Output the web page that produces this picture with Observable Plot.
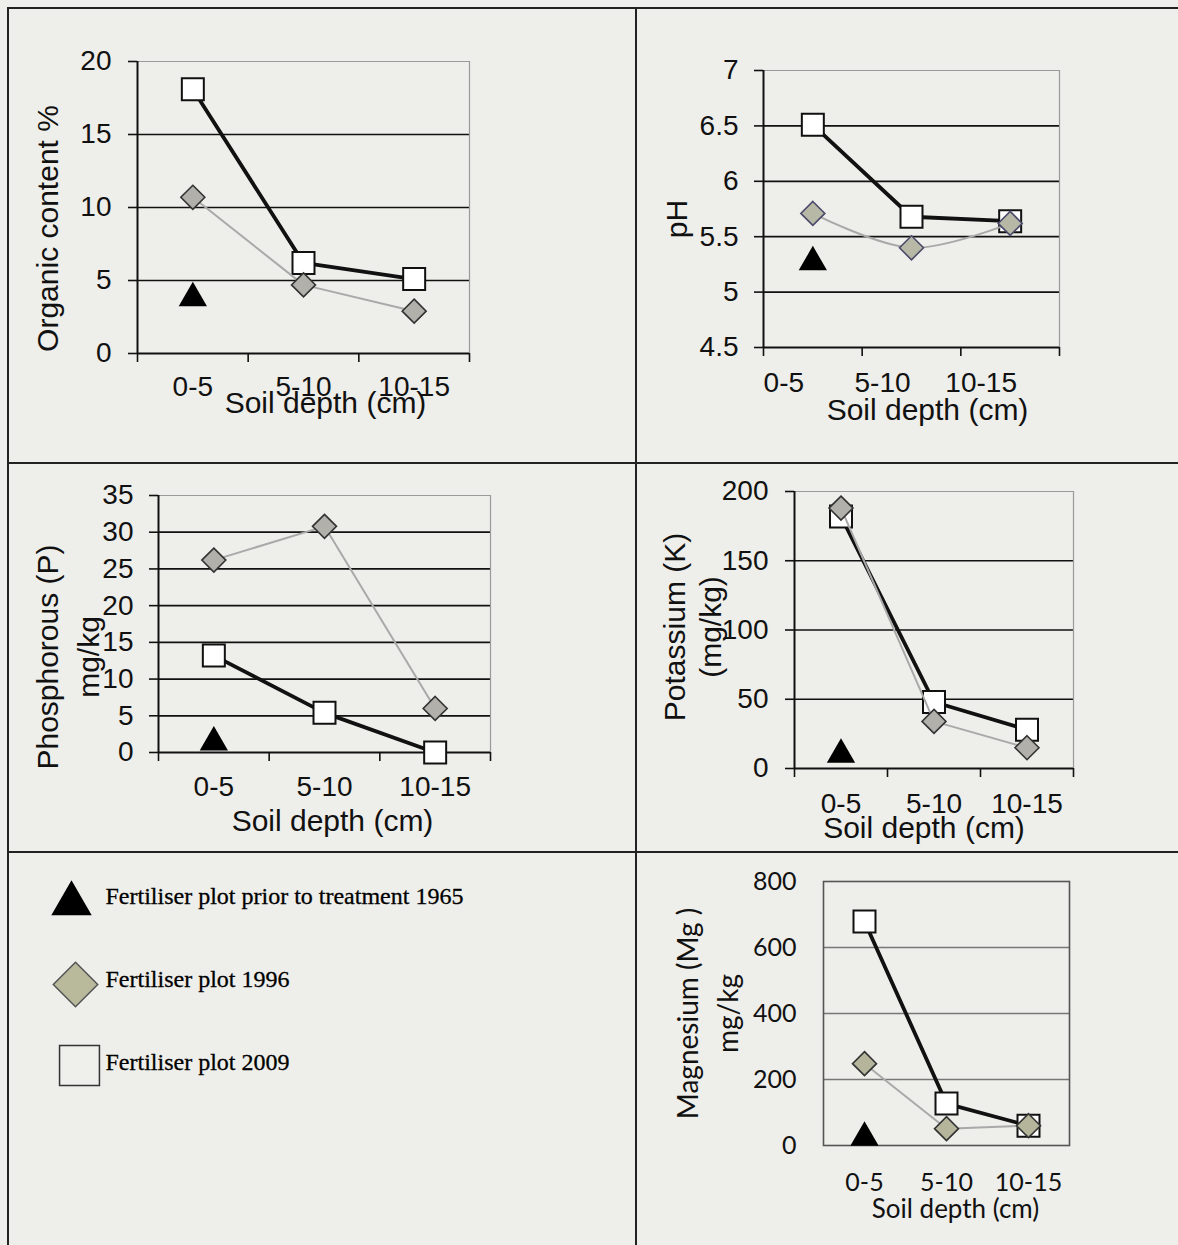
<!DOCTYPE html>
<html>
<head>
<meta charset="utf-8">
<script src="https://cdn.jsdelivr.net/npm/d3@7"></script>
<script src="https://cdn.jsdelivr.net/npm/@observablehq/plot@0.6"></script>
<style>
  html, body { margin: 0; padding: 0; background: #eeeeea; }
  #root { position: relative; width: 1178px; height: 1245px; background: #eeeeea; overflow: hidden; }
  #root svg { position: absolute; overflow: visible; }
  .rule { position: absolute; background: #222; }
</style>
</head>
<body>
<div id="root"></div>
<script>
// ---------------- data ----------------
const depths = ["0-5", "5-10", "10-15"];
const seriesNames = [
  "Fertiliser plot prior to treatment 1965",
  "Fertiliser plot 1996",
  "Fertiliser plot 2009"
];

const organic1965 = [3.8];
const organic1996 = [10.7, 4.7, 2.9];
const organic2009 = [18.1, 6.2, 5.1];
const organicTicks = [0, 5, 10, 15, 20];

const ph1965 = [5.27];
const ph1996 = [5.71, 5.40, 5.62];
const ph2009 = [6.51, 5.68, 5.64];
const phTicks = [4.5, 5, 5.5, 6, 6.5, 7];

const phosphorus1965 = [1.4];
const phosphorus1996 = [26.2, 30.8, 6.0];
const phosphorus2009 = [13.2, 5.4, 0];
const phosphorusTicks = [0, 5, 10, 15, 20, 25, 30, 35];

const potassium1965 = [10];
const potassium1996 = [188, 34, 15];
const potassium2009 = [182, 48, 28];
const potassiumTicks = [0, 50, 100, 150, 200];

const magnesium1965 = [24];
const magnesium1996 = [248, 51, 60];
const magnesium2009 = [679, 127, 60];
const magnesiumTicks = [0, 200, 400, 600, 800];

const xTitle = "Soil depth (cm)";

// ---------------- layout ----------------
const root = document.getElementById("root");
const ARIAL = "'Liberation Sans', Arial, sans-serif";
const CALIBRI = "Lato, 'Open Sans', sans-serif";

[[7, 7, 1171, 2], [7, 7, 2, 1238], [635, 7, 2, 1238], [7, 462, 1171, 2], [7, 851, 1171, 2]]
  .forEach(([l, t, w, h]) => {
    const d = document.createElement("div");
    d.className = "rule";
    Object.assign(d.style, {left: l + "px", top: t + "px", width: w + "px", height: h + "px"});
    root.append(d);
  });

function rows(values) {
  return values.map((v, i) => ({x: i + 0.5, v}));
}

function drawPanel(p) {
  const [cx0, cy0, cx1, cy1] = p.cell;
  const [fx0, fy0, fx1, fy1] = p.frame;
  const y0 = p.ticks[0], y1 = p.ticks[p.ticks.length - 1];
  const bounds = depths.map((d, i) => i).concat([depths.length]);
  const centers = depths.map((d, i) => i + 0.5);
  const marks = [];
  if (p.excel) {
    marks.push(
      Plot.gridY(p.ticks.slice(1, -1), {stroke: "#111", strokeOpacity: 1, strokeWidth: 1.7}),
      Plot.ruleY([y1], {stroke: "#9a9a9a", strokeWidth: 1.2}),
      Plot.ruleX([depths.length], {stroke: "#9a9a9a", strokeWidth: 1.2}),
      Plot.ruleX([0], {stroke: "#111", strokeWidth: 2}),
      Plot.ruleY([y0], {stroke: "#111", strokeWidth: 2}),
      Plot.axisY(p.ticks, {tickSize: 9, tickPadding: p.yPad, fontSize: p.tickFont,
        tickFormat: d => `${d}`, strokeWidth: 1.6, label: null}),
      Plot.axisX(bounds, {tickSize: 9, tickFormat: () => "", strokeWidth: 1.6, label: null})
    );
  } else {
    marks.push(
      Plot.gridY(p.ticks.slice(1, -1), {stroke: "#777", strokeOpacity: 1, strokeWidth: 1.3}),
      Plot.frame({stroke: "#555", strokeWidth: 1.6}),
      Plot.axisY(p.ticks, {tickSize: 0, tickPadding: p.yPad, fontSize: p.tickFont,
        tickFormat: d => `${d}`, label: null})
    );
  }
  marks.push(
    Plot.axisX(centers, {tickSize: 0, tickPadding: p.xPad, fontSize: p.tickFont,
      tickFormat: v => depths[Math.floor(v)], dx: p.xLabelDx || 0, label: null}),
    // 2009
    Plot.line(rows(p.s2009), {x: "x", y: "v", stroke: "#111", strokeWidth: 3.8}),
    Plot.dot(rows(p.s2009), {x: "x", y: "v", symbol: "square", r: 12.4, fill: "#fff",
      stroke: "#111", strokeWidth: 2}),
    // 1996
    Plot.line(rows(p.s1996), {x: "x", y: "v", stroke: "#a9a9a9", strokeWidth: 2,
      curve: p.curve1996 || "linear"}),
    Plot.dot(rows(p.s1996), {x: "x", y: "v", symbol: "diamond2", r: 10.8, fill: p.diamondFill,
      stroke: p.diamondStroke, strokeWidth: 1.6}),
    // 1965
    Plot.dot(rows(p.s1965), {x: "x", y: "v", symbol: "triangle", r: 10.5, fill: "#000"}),
    // titles
    Plot.text([xTitle], {text: d => d, frameAnchor: "bottom", dx: p.xTitlePos[0], dy: p.xTitlePos[1],
      fontSize: p.xTitleFont, textAnchor: "middle", lineAnchor: "middle", fill: "#111"}),
    Plot.text([p.yTitle], {text: d => d, frameAnchor: "left", dx: p.yTitlePos[0], dy: p.yTitlePos[1],
      rotate: -90, fontSize: p.yTitleFont, textAnchor: "middle", lineAnchor: "middle",
      lineHeight: p.lineHeight || 1.2, fill: "#111"})
  );
  const plot = Plot.plot({
    width: cx1 - cx0,
    height: cy1 - cy0,
    marginLeft: fx0 - cx0,
    marginTop: fy0 - cy0,
    marginRight: cx1 - fx1,
    marginBottom: cy1 - fy1,
    style: {background: "transparent", overflow: "visible", fontFamily: p.font, color: "#111"},
    x: {domain: [0, depths.length]},
    y: {domain: [y0, y1]},
    marks
  });
  plot.style.left = cx0 + "px";
  plot.style.top = cy0 + "px";
  root.append(plot);
}

const panels = [
  {cell: [8, 8, 636, 463], frame: [137, 61, 469, 353], ticks: organicTicks,
   s1965: organic1965, s1996: organic1996, s2009: organic2009, yTitle: "Organic content %",
   excel: true, font: ARIAL, tickFont: 28, xTitleFont: 30, yTitleFont: 30, yPad: 17, xPad: 23,
   xTitlePos: [22, 50], yTitlePos: [-91, 21], diamondFill: "#b1b0aa", diamondStroke: "#333"},
  {cell: [636, 8, 1178, 463], frame: [763, 70, 1059, 347], ticks: phTicks,
   s1965: ph1965, s1996: ph1996, s2009: ph2009, yTitle: "pH", curve1996: "catmull-rom",
   excel: true, font: ARIAL, tickFont: 28, xTitleFont: 30, yTitleFont: 30, yPad: 16, xPad: 25,
   xLabelDx: -29, xTitlePos: [16, 63], yTitlePos: [-88, 10], diamondFill: "#b8b8a6", diamondStroke: "#4a4a6a"},
  {cell: [8, 463, 636, 852], frame: [158, 495, 490, 752], ticks: phosphorusTicks,
   s1965: phosphorus1965, s1996: phosphorus1996, s2009: phosphorus2009, yTitle: "Phosphorous (P)\nmg/kg",
   excel: true, font: ARIAL, tickFont: 28, xTitleFont: 30, yTitleFont: 30, yPad: 16, xPad: 24,
   xTitlePos: [8, 69], yTitlePos: [-93, 33], lineHeight: 1.35, diamondFill: "#b1b0aa", diamondStroke: "#333"},
  {cell: [636, 463, 1178, 852], frame: [794, 491, 1073, 768], ticks: potassiumTicks,
   s1965: potassium1965, s1996: potassium1996, s2009: potassium2009, yTitle: "Potassium (K)\n(mg/kg)",
   excel: true, font: ARIAL, tickFont: 28, xTitleFont: 30, yTitleFont: 30, yPad: 17, xPad: 25,
   xTitlePos: [-10, 60], yTitlePos: [-103, -3], lineHeight: 1.2, diamondFill: "#b1b0aa", diamondStroke: "#333"},
  {cell: [636, 852, 1178, 1245], frame: [823, 881, 1069, 1145], ticks: magnesiumTicks,
   s1965: magnesium1965, s1996: magnesium1996, s2009: magnesium2009, yTitle: "Magnesium (Mg )\nmg/kg",
   excel: false, font: CALIBRI, tickFont: 25, xTitleFont: 26, yTitleFont: 28, yPad: 27, xPad: 28,
   xTitlePos: [9, 64], yTitlePos: [-118, 0], lineHeight: 1.43, diamondFill: "#b5b59c", diamondStroke: "#333"}
];
panels.forEach(drawPanel);

// ---------------- legend ----------------
const legend = Plot.plot({
  width: 628,
  height: 393,
  margin: 0,
  style: {background: "transparent", overflow: "visible"},
  y: {type: "point", domain: seriesNames, range: [43, 210], padding: 0, axis: null},
  marks: [
    Plot.dot([seriesNames[0]], {y: d => d, frameAnchor: "left", dx: 63, dy: 7,
      symbol: "triangle", r: 15, fill: "#000"}),
    Plot.dot([seriesNames[1]], {y: d => d, frameAnchor: "left", dx: 67, dy: 5,
      symbol: "diamond2", r: 20, fill: "#b9b99c", stroke: "#555", strokeWidth: 1.5}),
    Plot.dot([seriesNames[2]], {y: d => d, frameAnchor: "left", dx: 71, dy: 3,
      symbol: "square", r: 22.5, fill: "#efefec", stroke: "#333", strokeWidth: 1.5}),
    Plot.text(seriesNames, {y: d => d, text: d => d, frameAnchor: "left", dx: 97,
      textAnchor: "start", lineAnchor: "middle", fontSize: 24,
      fontFamily: "'Liberation Serif', 'Times New Roman', serif", fill: "#000",
      stroke: "#000", strokeWidth: 0.3})
  ]
});
legend.style.left = "8px";
legend.style.top = "852px";
root.append(legend);
</script>
</body>
</html>
